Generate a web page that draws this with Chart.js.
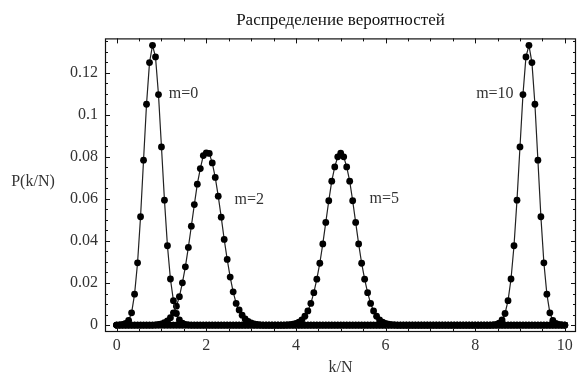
<!DOCTYPE html>
<html>
<head>
<meta charset="utf-8">
<script src="https://cdn.jsdelivr.net/npm/chart.js@4/dist/chart.umd.min.js"></script>
<style>
  html, body { margin: 0; padding: 0; background: #fff; }
  #wrap { width: 580px; height: 381px; }
</style>
</head>
<body>
<div id="wrap"><canvas id="myChart"></canvas></div>
<script>
// k runs 0..150, the x axis is k/N
const N = 15;

// P(k/N) for each m, one value per k (rows of 15)
const pM0 = [
  0, 0.0001, 0.0003, 0.0008, 0.0022, 0.0058, 0.0147, 0.0296, 0.0515, 0.0784, 0.1050, 0.1248, 0.1330, 0.1275, 0.1096,
  0.0847, 0.0594, 0.0377, 0.0219, 0.0116, 0.0055, 0.0024, 0.0009, 0.0003, 0.0001, 0, 0, 0, 0, 0,
  0, 0, 0, 0, 0, 0, 0, 0, 0, 0, 0, 0, 0, 0, 0,
  0, 0, 0, 0, 0, 0, 0, 0, 0, 0, 0, 0, 0, 0, 0,
  0, 0, 0, 0, 0, 0, 0, 0, 0, 0, 0, 0, 0, 0, 0,
  0, 0, 0, 0, 0, 0, 0, 0, 0, 0, 0, 0, 0, 0, 0,
  0, 0, 0, 0, 0, 0, 0, 0, 0, 0, 0, 0, 0, 0, 0,
  0, 0, 0, 0, 0, 0, 0, 0, 0, 0, 0, 0, 0, 0, 0,
  0, 0, 0, 0, 0, 0, 0, 0, 0, 0, 0, 0, 0, 0, 0,
  0, 0, 0, 0, 0, 0, 0, 0, 0, 0, 0, 0, 0, 0, 0,
  0
];
const pM2 = [
  0, 0, 0, 0, 0, 0, 0, 0, 0, 0, 0, 0, 0, 0.0001, 0.0003,
  0.0006, 0.0011, 0.0020, 0.0035, 0.0058, 0.0090, 0.0135, 0.0201, 0.0277, 0.0369, 0.0470, 0.0573, 0.0670, 0.0744, 0.0806,
  0.0819, 0.0816, 0.0771, 0.0702, 0.0613, 0.0513, 0.0407, 0.0312, 0.0228, 0.0158, 0.0103, 0.0072, 0.0047, 0.0029, 0.0017,
  0.0010, 0.0005, 0.0003, 0.0001, 0, 0, 0, 0, 0, 0, 0, 0, 0, 0, 0,
  0, 0, 0, 0, 0, 0, 0, 0, 0, 0, 0, 0, 0, 0, 0,
  0, 0, 0, 0, 0, 0, 0, 0, 0, 0, 0, 0, 0, 0, 0,
  0, 0, 0, 0, 0, 0, 0, 0, 0, 0, 0, 0, 0, 0, 0,
  0, 0, 0, 0, 0, 0, 0, 0, 0, 0, 0, 0, 0, 0, 0,
  0, 0, 0, 0, 0, 0, 0, 0, 0, 0, 0, 0, 0, 0, 0,
  0, 0, 0, 0, 0, 0, 0, 0, 0, 0, 0, 0, 0, 0, 0,
  0
];
const pM5 = [
  0, 0, 0, 0, 0, 0, 0, 0, 0, 0, 0, 0, 0, 0, 0,
  0, 0, 0, 0, 0, 0, 0, 0, 0, 0, 0, 0, 0, 0, 0,
  0, 0, 0, 0, 0, 0, 0, 0, 0, 0, 0, 0, 0, 0, 0,
  0, 0, 0, 0, 0, 0, 0, 0, 0, 0, 0, 0, 0.0001, 0.0002, 0.0004,
  0.0008, 0.0014, 0.0025, 0.0042, 0.0067, 0.0103, 0.0154, 0.0218, 0.0294, 0.0386, 0.0488, 0.0591, 0.0684, 0.0752, 0.0800,
  0.0817, 0.0800, 0.0752, 0.0684, 0.0591, 0.0488, 0.0386, 0.0294, 0.0218, 0.0154, 0.0103, 0.0067, 0.0042, 0.0025, 0.0014,
  0.0008, 0.0004, 0.0002, 0.0001, 0, 0, 0, 0, 0, 0, 0, 0, 0, 0, 0,
  0, 0, 0, 0, 0, 0, 0, 0, 0, 0, 0, 0, 0, 0, 0,
  0, 0, 0, 0, 0, 0, 0, 0, 0, 0, 0, 0, 0, 0, 0,
  0, 0, 0, 0, 0, 0, 0, 0, 0, 0, 0, 0, 0, 0, 0,
  0
];
const pM10 = [
  0, 0, 0, 0, 0, 0, 0, 0, 0, 0, 0, 0, 0, 0, 0,
  0, 0, 0, 0, 0, 0, 0, 0, 0, 0, 0, 0, 0, 0, 0,
  0, 0, 0, 0, 0, 0, 0, 0, 0, 0, 0, 0, 0, 0, 0,
  0, 0, 0, 0, 0, 0, 0, 0, 0, 0, 0, 0, 0, 0, 0,
  0, 0, 0, 0, 0, 0, 0, 0, 0, 0, 0, 0, 0, 0, 0,
  0, 0, 0, 0, 0, 0, 0, 0, 0, 0, 0, 0, 0, 0, 0,
  0, 0, 0, 0, 0, 0, 0, 0, 0, 0, 0, 0, 0, 0, 0,
  0, 0, 0, 0, 0, 0, 0, 0, 0, 0, 0, 0, 0, 0, 0,
  0, 0, 0, 0, 0, 0, 0.0001, 0.0003, 0.0009, 0.0024, 0.0055, 0.0116, 0.0219, 0.0377, 0.0594,
  0.0847, 0.1096, 0.1275, 0.1330, 0.1248, 0.1050, 0.0784, 0.0515, 0.0296, 0.0147, 0.0058, 0.0022, 0.0008, 0.0003, 0.0001,
  0
];

const seriesNames = ['m=0', 'm=2', 'm=5', 'm=10'];
const seriesValues = [pM0, pM2, pM5, pM10];

const xTicks = [0, 2, 4, 6, 8, 10];
const xTickLabels = ['0', '2', '4', '6', '8', '10'];
const yTicks = [0, 0.02, 0.04, 0.06, 0.08, 0.1, 0.12];
const yTickLabels = ['0', '0.02', '0.04', '0.06', '0.08', '0.1', '0.12'];

// where the m= captions sit, in data units
const captionSpots = [
  { text: 'm=0', x: 1.49, y: 0.110 },
  { text: 'm=2', x: 2.96, y: 0.0594 },
  { text: 'm=5', x: 5.97, y: 0.0599 },
  { text: 'm=10', x: 8.44, y: 0.110 }
];

const serif = "'Liberation Serif', 'Times New Roman', serif";
const textColor = '#333';

// frame with inward ticks (Mathematica style), y label and captions
const framePlugin = {
  id: 'framePlugin',
  afterDatasetsDraw(chart) {
    const { ctx, chartArea: a, scales: { x, y } } = chart;
    ctx.save();
    ctx.strokeStyle = '#111';
    ctx.lineWidth = 1.2;
    ctx.strokeRect(a.left + 0.5, a.top + 0.5, a.right - a.left - 1, a.bottom - a.top - 1);

    ctx.lineWidth = 1;
    ctx.beginPath();
    for (let i = 0; i <= 20; i++) {
      const v = i * 0.5;
      const len = (i % 4 === 0) ? 5 : 3;
      const px = Math.round(x.getPixelForValue(v)) + 0.5;
      ctx.moveTo(px, a.bottom); ctx.lineTo(px, a.bottom - len);
      ctx.moveTo(px, a.top); ctx.lineTo(px, a.top + len);
    }
    for (let i = 0; i <= 27; i++) {
      const v = i * 0.005;
      const len = (i % 4 === 0) ? 5 : 3;
      const py = Math.round(y.getPixelForValue(v)) + 0.5;
      ctx.moveTo(a.left, py); ctx.lineTo(a.left + len, py);
      ctx.moveTo(a.right, py); ctx.lineTo(a.right - len, py);
    }
    ctx.stroke();

    ctx.fillStyle = textColor;
    ctx.font = '16px ' + serif;
    ctx.textAlign = 'center';
    ctx.textBaseline = 'middle';
    ctx.fillText('P(k/N)', 33, (a.top + a.bottom) / 2 - 3);
    captionSpots.forEach(c => {
      ctx.fillText(c.text, x.getPixelForValue(c.x), y.getPixelForValue(c.y));
    });
    ctx.restore();
  }
};

const ctx = document.getElementById('myChart');

new Chart(ctx, {
  type: 'scatter',
  data: {
    datasets: seriesValues.map((vals, i) => ({
      label: seriesNames[i],
      data: vals.map((p, k) => ({ x: k / N, y: p })),
      showLine: true,
      borderColor: '#222',
      borderWidth: 1.2,
      pointRadius: 3.4,
      pointBackgroundColor: '#000',
      pointBorderWidth: 0,
      clip: false
    }))
  },
  options: {
    responsive: true,
    maintainAspectRatio: false,
    animation: false,
    layout: { padding: { left: 0, right: 1, top: 0, bottom: 0 } },
    plugins: {
      legend: { display: false },
      tooltip: { enabled: false },
      title: {
        display: true,
        fullSize: false,
        text: 'Распределение вероятностей',
        color: '#111',
        font: { family: serif, size: 17, weight: 'normal' },
        padding: { top: 10, bottom: 8 }
      }
    },
    scales: {
      x: {
        type: 'linear',
        min: -0.26,
        max: 10.25,
        grid: { display: false, drawTicks: false },
        border: { display: false },
        afterBuildTicks: (scale) => { scale.ticks = xTicks.map(v => ({ value: v })); },
        afterFit: (scale) => { scale.height = 49; },
        ticks: {
          padding: 4,
          color: textColor,
          font: { family: serif, size: 16 },
          maxRotation: 0,
          callback: (v) => xTickLabels[xTicks.indexOf(v)]
        },
        title: {
          display: true,
          text: 'k/N',
          color: textColor,
          font: { family: serif, size: 16 },
          padding: { top: 0, bottom: 4 }
        }
      },
      y: {
        type: 'linear',
        min: -0.0033,
        max: 0.1363,
        grid: { display: false, drawTicks: false },
        border: { display: false },
        afterBuildTicks: (scale) => { scale.ticks = yTicks.map(v => ({ value: v })); },
        afterFit: (scale) => { scale.width = 105; },
        ticks: {
          padding: 7,
          color: textColor,
          font: { family: serif, size: 16 },
          callback: (v) => yTickLabels[yTicks.indexOf(v)]
        }
      }
    }
  },
  plugins: [framePlugin]
});
</script>
</body>
</html>
